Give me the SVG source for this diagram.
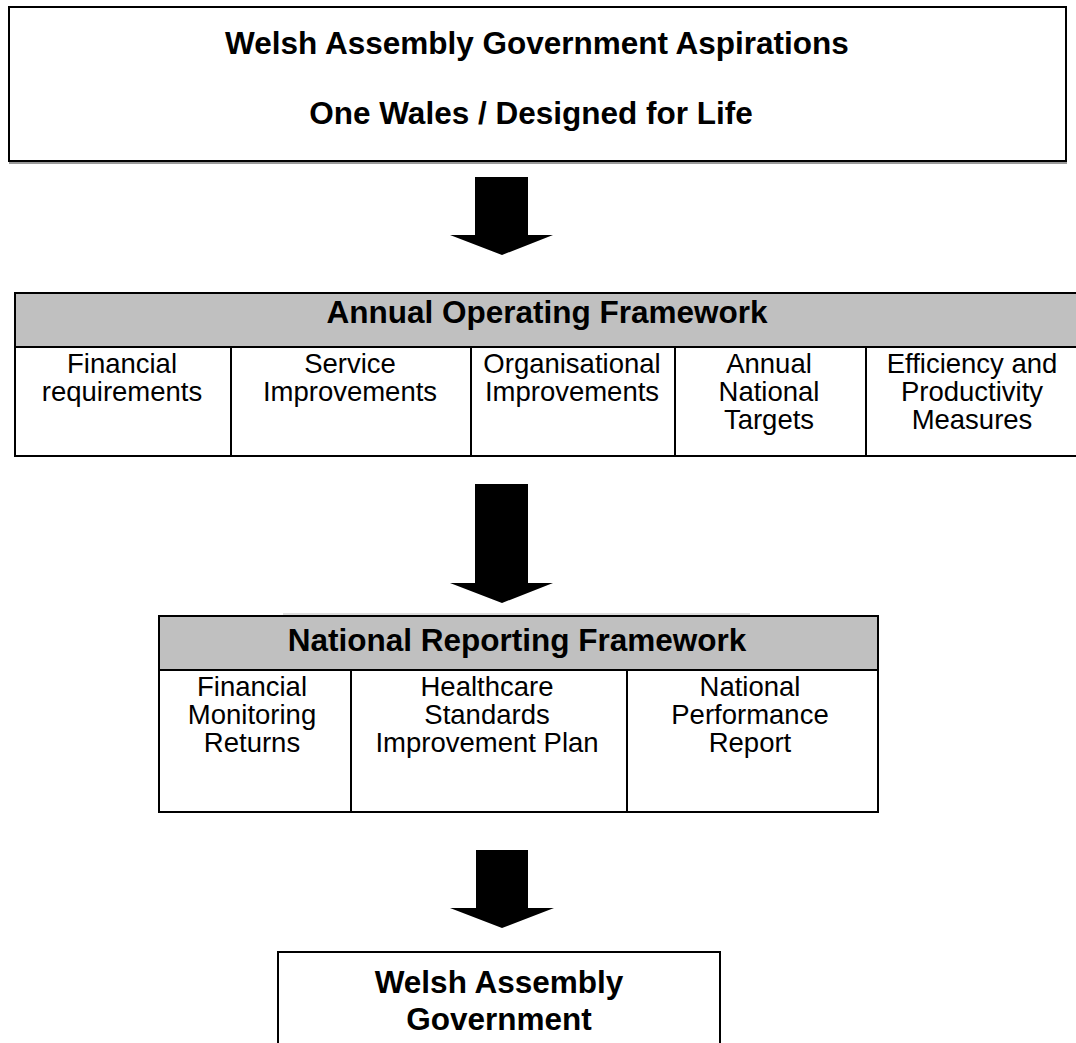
<svg xmlns="http://www.w3.org/2000/svg" width="1076" height="1043" viewBox="0 0 1076 1043">
<style>
.box{fill:#fff;stroke:#000;stroke-width:2}
.hdr{fill:#c0c0c0;stroke:#000;stroke-width:2}
.ln{stroke:#000;stroke-width:2}
.t{font-family:"Liberation Sans",Arial,sans-serif;font-weight:bold;font-size:31.5px;fill:#000;text-anchor:middle}
.b{font-family:"Liberation Sans",Arial,sans-serif;font-size:27.5px;fill:#000;text-anchor:middle}
.arrow{fill:#000}
</style>
<g id="aspirations">
<rect class="box" x="9" y="7" width="1057" height="154"/>
<line x1="9" y1="163" x2="1067" y2="163" stroke="#777" stroke-width="1.5"/>
<text class="t" x="537" y="54">Welsh Assembly Government Aspirations</text>
<text class="t" x="531" y="124">One Wales / Designed for Life</text>
</g>
<g id="connectors">
<polygon class="arrow" points="475,177 528,177 528,235 553,235 502,255 450,235 475,235"/>
<polygon class="arrow" points="475,484 528,484 528,583 553,583 502,603 450,583 475,583"/>
<polygon class="arrow" points="476,850 528,850 528,908 554,908 502,928 450,908 476,908"/>
</g>
<g id="annual-operating-framework">
<rect class="hdr" x="15" y="293" width="1080" height="54"/>
<rect class="box" x="15" y="347" width="1080" height="109"/>
<line class="ln" x1="231" y1="347" x2="231" y2="456"/>
<line class="ln" x1="471" y1="347" x2="471" y2="456"/>
<line class="ln" x1="675" y1="347" x2="675" y2="456"/>
<line class="ln" x1="866" y1="347" x2="866" y2="456"/>
<text class="t" x="547" y="323">Annual Operating Framework</text>
<text class="b" x="122" y="373">Financial</text>
<text class="b" x="122" y="401">requirements</text>
<text class="b" x="350" y="373">Service</text>
<text class="b" x="350" y="401">Improvements</text>
<text class="b" x="572" y="373">Organisational</text>
<text class="b" x="572" y="401">Improvements</text>
<text class="b" x="769" y="373">Annual</text>
<text class="b" x="769" y="401">National</text>
<text class="b" x="769" y="429">Targets</text>
<text class="b" x="972" y="373">Efficiency and</text>
<text class="b" x="972" y="401">Productivity</text>
<text class="b" x="972" y="429">Measures</text>
</g>
<g id="national-reporting-framework">
<line x1="283" y1="614" x2="750" y2="614" stroke="#bbb" stroke-width="1"/>
<rect class="hdr" x="159" y="616" width="719" height="54"/>
<rect class="box" x="159" y="670" width="719" height="142"/>
<line class="ln" x1="351" y1="670" x2="351" y2="812"/>
<line class="ln" x1="627" y1="670" x2="627" y2="812"/>
<text class="t" x="517" y="651">National Reporting Framework</text>
<text class="b" x="252" y="696">Financial</text>
<text class="b" x="252" y="724">Monitoring</text>
<text class="b" x="252" y="752">Returns</text>
<text class="b" x="487" y="696">Healthcare</text>
<text class="b" x="487" y="724">Standards</text>
<text class="b" x="487" y="752">Improvement Plan</text>
<text class="b" x="750" y="696">National</text>
<text class="b" x="750" y="724">Performance</text>
<text class="b" x="750" y="752">Report</text>
</g>
<g id="welsh-assembly-government">
<rect class="box" x="278" y="952" width="442" height="100"/>
<text class="t" x="499" y="993">Welsh Assembly</text>
<text class="t" x="499" y="1030">Government</text>
</g>
</svg>
